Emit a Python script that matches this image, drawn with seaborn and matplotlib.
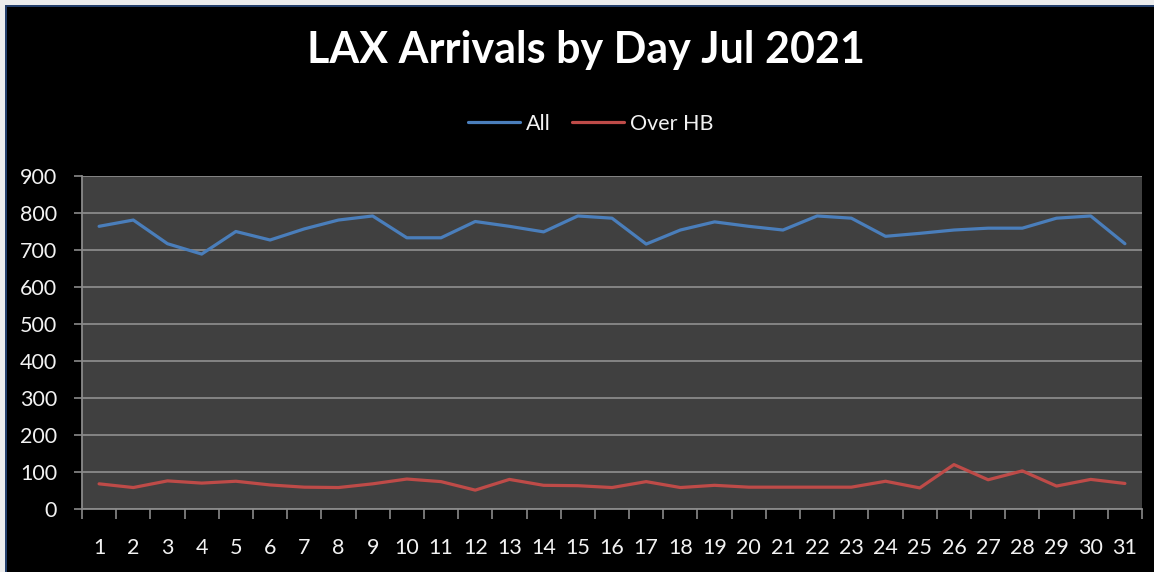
import numpy as np
import pandas as pd
import matplotlib
matplotlib.use('Agg')
import matplotlib.pyplot as plt
import seaborn as sns
from matplotlib.patches import Rectangle

# values
days = list(range(1, 32))
all_arrivals = [764, 781, 717, 689, 750, 727, 757, 781, 792, 733,
                733, 777, 764, 749, 792, 786, 716, 754, 776, 764,
                754, 792, 786, 737, 745, 754, 759, 759, 786, 792, 717]
over_hb = [68, 58, 76, 70, 75, 65, 59, 58, 68, 81,
           74, 51, 80, 64, 63, 58, 74, 58, 64, 59,
           59, 59, 59, 75, 57, 120, 79, 103, 62, 80, 69]
series_names = ['All', 'Over HB']
y_ticks = list(range(0, 1000, 100))

colors = {'All': '#4a7ebb', 'Over HB': '#be4b48'}
text_col = '#f2f2f2'
grid_col = '#8a8a8a'

df = pd.DataFrame({
    'day': days * 2,
    'value': all_arrivals + over_hb,
    'series': ['All'] * len(days) + ['Over HB'] * len(days),
})

sns.set_style('dark')
plt.rcParams['font.family'] = ['Lato', 'DejaVu Sans']

fig = plt.figure(figsize=(11.54, 5.72), dpi=100, facecolor='black')
ax = fig.add_axes([82 / 1154, 1 - 509 / 572, (1142 - 82) / 1154, (509 - 176) / 572])

sns.lineplot(data=df, x='day', y='value', hue='series', hue_order=series_names,
             palette=colors, linewidth=2.3, ax=ax, legend=False)

ax.set_facecolor('#404040')
ax.set_xlim(0.5, 31.5)
ax.set_ylim(0, 900)
ax.set_xlabel('')
ax.set_ylabel('')

# y axis
ax.set_yticks(y_ticks)
ax.set_yticklabels([str(v) for v in y_ticks])
ax.grid(False)
ax.yaxis.grid(True, color=grid_col, linewidth=1.3)
ax.set_axisbelow(True)
ax.tick_params(axis='y', which='major', left=True, length=6, width=1.2,
               color=grid_col, pad=12, labelsize=15.5, labelcolor=text_col)

# x axis: labels on days, tick marks between them
ax.set_xticks(days)
ax.set_xticklabels([str(d) for d in days])
ax.set_xticks(np.arange(0.5, 32, 1), minor=True)
ax.tick_params(axis='x', which='major', bottom=True, length=0, pad=21,
               labelsize=15.5, labelcolor=text_col)
ax.tick_params(axis='x', which='minor', bottom=True, length=7, width=1.2,
               color=grid_col)

for side in ['top', 'right']:
    ax.spines[side].set_visible(False)
for side in ['left', 'bottom']:
    ax.spines[side].set_visible(True)
    ax.spines[side].set_color(grid_col)
    ax.spines[side].set_linewidth(1.3)

# title and legend
fig.text(0.508, 1 - 50 / 572, 'LAX Arrivals by Day Jul 2021', ha='center', va='center',
         fontsize=31, fontweight='bold', color='white')

handles = [plt.Line2D([], [], color=colors[s], linewidth=2.3) for s in series_names]
fig.legend(handles, series_names, loc='center', bbox_to_anchor=(0.512, 1 - 124 / 572),
           ncol=2, frameon=False, fontsize=15.5, labelcolor=text_col,
           handlelength=2.4, handletextpad=0.3, columnspacing=1.0)

# outer frame strips like the screenshot
fig.patches.append(Rectangle((0, 1 - 5 / 572), 1, 5 / 572, transform=fig.transFigure,
                             facecolor='#ececec', edgecolor='none'))
fig.patches.append(Rectangle((0, 0), 5 / 1154, 1, transform=fig.transFigure,
                             facecolor='#ececec', edgecolor='none'))
fig.patches.append(Rectangle((5 / 1154, 1 - 7 / 572), 1, 2 / 572, transform=fig.transFigure,
                             facecolor='#243f6b', edgecolor='none'))
fig.patches.append(Rectangle((5 / 1154, 0), 2 / 1154, 1 - 5 / 572, transform=fig.transFigure,
                             facecolor='#243f6b', edgecolor='none'))

plt.savefig('out.png', dpi=100, facecolor='black')
